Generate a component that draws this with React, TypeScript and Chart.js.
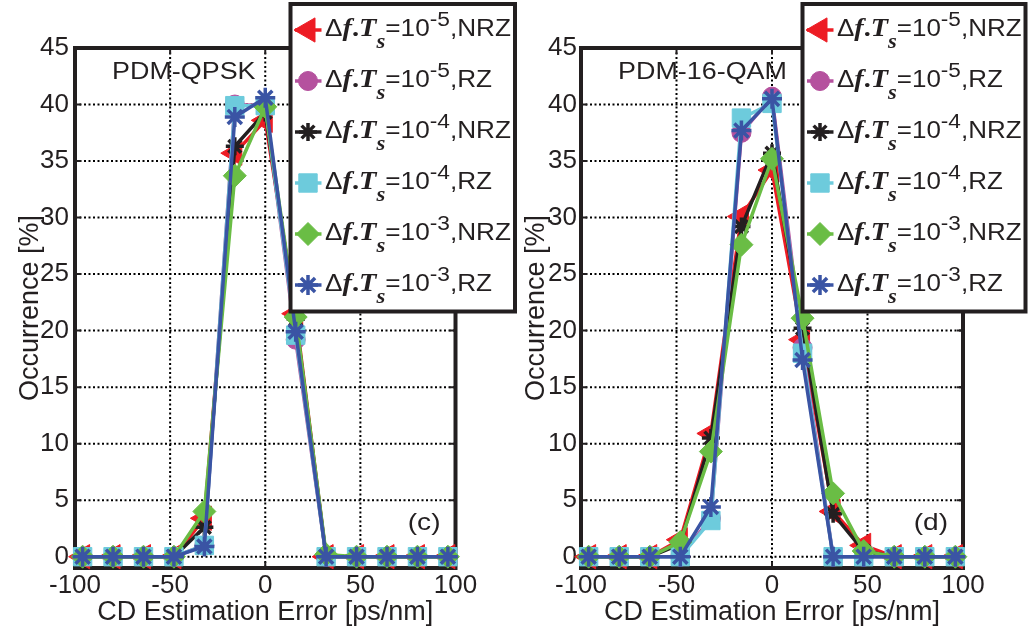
import React, { useEffect, useRef } from 'react';
import { Chart, registerables } from 'chart.js';

Chart.register(...registerables);

// ---------------- data ----------------
const xValues = [-96, -80, -64, -48, -32, -16, 0, 16, 32, 48, 64, 80, 96];
const xTicks = [-100, -50, 0, 50, 100];
const yTicks = [0, 5, 10, 15, 20, 25, 30, 35, 40, 45];

const seriesExponents = ['-5', '-5', '-4', '-4', '-3', '-3'];
const seriesFormats = ['NRZ', 'RZ', 'NRZ', 'RZ', 'NRZ', 'RZ'];
const seriesColors = ['#ED1C24', '#B5519E', '#231F20', '#6DCBDC', '#6ABD45', '#3A54A4'];

// PDM-QPSK (c)
const qpskNrz5 = [0, 0, 0, 0, 3.4, 35.7, 38.6, 21.5, 0, 0, 0, 0, 0];
const qpskRz5 = [0, 0, 0, 0, 1.0, 40.0, 39.9, 19.2, 0, 0, 0, 0, 0];
const qpskNrz4 = [0, 0, 0, 0, 2.6, 36.3, 39.3, 21.0, 0, 0, 0, 0, 0];
const qpskRz4 = [0, 0, 0, 0, 1.0, 39.9, 39.9, 19.6, 0, 0, 0, 0, 0];
const qpskNrz3 = [0, 0, 0, 0, 4.0, 33.7, 39.8, 21.2, 0.2, 0, 0, 0, 0];
const qpskRz3 = [0, 0, 0, 0, 0.9, 38.9, 40.6, 19.9, 0, 0, 0, 0, 0];

// PDM-16-QAM (d)
const qamNrz5 = [0, 0, 0, 1.5, 10.9, 30.1, 34.2, 19.2, 4.0, 1.0, 0, 0, 0];
const qamRz5 = [0, 0, 0, 0, 3.4, 37.5, 40.7, 18.5, 0, 0, 0, 0, 0];
const qamNrz4 = [0, 0, 0, 1.1, 10.5, 29.2, 35.7, 20.2, 3.8, 0.5, 0, 0, 0];
const qamRz4 = [0, 0, 0, 0, 3.2, 38.8, 40.1, 18.0, 0, 0, 0, 0, 0];
const qamNrz3 = [0, 0, 0, 1.3, 9.3, 27.6, 35.2, 21.1, 5.6, 0.5, 0, 0, 0];
const qamRz3 = [0, 0, 0, 0, 4.4, 37.7, 40.5, 17.4, 0, 0, 0, 0, 0];

const qpskSeries = [qpskNrz5, qpskRz5, qpskNrz4, qpskRz4, qpskNrz3, qpskRz3];
const qamSeries = [qamNrz5, qamRz5, qamNrz4, qamRz4, qamNrz3, qamRz3];

// ---------------- styles ----------------
const SANS = '"Liberation Sans", Arial, Helvetica, sans-serif';
const SERIF = '"Liberation Serif", "Times New Roman", serif';
const INK = '#231F20';
const STRETCH = 1.17;

const markerStyles = [
  { style: 'triangle', radius: 14, rotation: -90, bw: 1 },
  { style: 'circle', radius: 9.5, rotation: 0, bw: 1 },
  { style: 'star', radius: 9, rotation: 0, bw: 3.5 },
  { style: 'rect', radius: 13, rotation: 0, bw: 1 },
  { style: 'rectRot', radius: 11.5, rotation: 0, bw: 1 },
  { style: 'star', radius: 10, rotation: 0, bw: 3.5 },
];

function drawMarker(ctx: CanvasRenderingContext2D, i: number, x: number, y: number) {
  const m = markerStyles[i];
  const c = seriesColors[i];
  const r = m.radius;
  ctx.save();
  ctx.fillStyle = c;
  ctx.strokeStyle = c;
  ctx.lineWidth = m.bw;
  ctx.beginPath();
  if (m.style === 'triangle') {
    ctx.moveTo(x - r, y);
    ctx.lineTo(x + r / 2, y - r * 0.866);
    ctx.lineTo(x + r / 2, y + r * 0.866);
    ctx.closePath();
    ctx.fill();
    ctx.stroke();
  } else if (m.style === 'circle') {
    ctx.arc(x, y, r, 0, Math.PI * 2);
    ctx.fill();
    ctx.stroke();
  } else if (m.style === 'rect') {
    const s = r * Math.SQRT1_2;
    ctx.rect(x - s, y - s, 2 * s, 2 * s);
    ctx.fill();
    ctx.stroke();
  } else if (m.style === 'rectRot') {
    ctx.moveTo(x - r, y);
    ctx.lineTo(x, y - r);
    ctx.lineTo(x + r, y);
    ctx.lineTo(x, y + r);
    ctx.closePath();
    ctx.fill();
    ctx.stroke();
  } else {
    const d = r * Math.SQRT1_2;
    ctx.moveTo(x - r, y); ctx.lineTo(x + r, y);
    ctx.moveTo(x, y - r); ctx.lineTo(x, y + r);
    ctx.moveTo(x - d, y - d); ctx.lineTo(x + d, y + d);
    ctx.moveTo(x - d, y + d); ctx.lineTo(x + d, y - d);
    ctx.stroke();
  }
  ctx.restore();
}

type Seg = { t: string; font: string; dy: number };
function legendSegs(exp: string, fmt: string): Seg[] {
  return [
    { t: 'Δ', font: `23px ${SANS}`, dy: 0 },
    { t: 'f', font: `italic bold 25px ${SERIF}`, dy: 0 },
    { t: '.', font: `bold 25px ${SERIF}`, dy: 0 },
    { t: 'T', font: `italic bold 25px ${SERIF}`, dy: 0 },
    { t: 's', font: `italic bold 20px ${SERIF}`, dy: 12 },
    { t: '=10', font: `23px ${SANS}`, dy: 0 },
    { t: exp, font: `20px ${SANS}`, dy: -10 },
    { t: ',' + fmt, font: `23px ${SANS}`, dy: 0 },
  ];
}
function segsWidth(ctx: CanvasRenderingContext2D, segs: Seg[]) {
  let w = 0;
  for (const s of segs) { ctx.font = s.font; w += ctx.measureText(s.t).width; }
  return w;
}

function stretchedText(ctx: CanvasRenderingContext2D, text: string, x: number, y: number, font: string, align: CanvasTextAlign, sx: number) {
  ctx.save();
  ctx.translate(x, y);
  ctx.scale(sx, 1);
  ctx.font = font;
  ctx.textAlign = align;
  ctx.textBaseline = 'alphabetic';
  ctx.fillStyle = INK;
  ctx.fillText(text, 0, 0);
  ctx.restore();
}

type PanelCfg = {
  series: number[][];
  name: string;
  tag: string;
  canvasLeft: number;
  canvasWidth: number;
  yAxisWidth: number;
  padRight: number;
  yTickPad: number;
  yTitleX: number;
  legendLeft: number;
  legendRight: number;
};

function makePlugin(cfg: PanelCfg) {
  return {
    id: 'decor',
    beforeDatasetsDraw(chart: any) {
      const ctx: CanvasRenderingContext2D = chart.ctx;
      const { left, right, top, bottom } = chart.chartArea;
      const xs = chart.scales.x;
      const ys = chart.scales.y;
      ctx.save();
      // dotted grid
      ctx.strokeStyle = '#000';
      ctx.lineWidth = 2;
      ctx.setLineDash([2, 2.5]);
      ctx.beginPath();
      for (const v of xTicks) {
        const px = xs.getPixelForValue(v);
        if (px <= left + 2 || px >= right - 2) continue;
        ctx.moveTo(px, top); ctx.lineTo(px, bottom);
      }
      for (const v of yTicks) {
        const py = ys.getPixelForValue(v);
        if (py <= top + 2 || py >= bottom - 2) continue;
        ctx.moveTo(left, py); ctx.lineTo(right, py);
      }
      ctx.stroke();
      ctx.setLineDash([]);
      // inward tick marks
      ctx.strokeStyle = INK;
      ctx.lineWidth = 2;
      ctx.beginPath();
      for (const v of xTicks) {
        const px = xs.getPixelForValue(v);
        ctx.moveTo(px, bottom); ctx.lineTo(px, bottom - 6);
        ctx.moveTo(px, top); ctx.lineTo(px, top + 6);
      }
      for (const v of yTicks) {
        const py = ys.getPixelForValue(v);
        ctx.moveTo(left, py); ctx.lineTo(left + 6, py);
        ctx.moveTo(right, py); ctx.lineTo(right - 6, py);
      }
      ctx.stroke();
      // box
      ctx.lineWidth = 4;
      ctx.strokeRect(left, top, right - left, bottom - top);
      ctx.restore();
    },
    afterDraw(chart: any) {
      const ctx: CanvasRenderingContext2D = chart.ctx;
      const { left, right, top, bottom } = chart.chartArea;
      ctx.save();
      // axis titles
      ctx.fillStyle = INK;
      ctx.font = `27px ${SANS}`;
      ctx.textAlign = 'center';
      ctx.textBaseline = 'middle';
      ctx.fillText('CD Estimation Error [ps/nm]', (left + right) / 2, 613);
      ctx.save();
      ctx.translate(cfg.yTitleX, (top + bottom) / 2);
      ctx.rotate(-Math.PI / 2);
      ctx.fillText('Occurrence [%]', 0, 0);
      ctx.restore();
      // inner labels
      stretchedText(ctx, cfg.name, left + 37, 79, `23px ${SANS}`, 'left', STRETCH);
      stretchedText(ctx, cfg.tag, right - 15, 530, `24px ${SANS}`, 'right', STRETCH);
      // legend
      const bl = cfg.legendLeft, br = cfg.legendRight, bt = 4, bb = 311.5;
      ctx.fillStyle = '#fff';
      ctx.fillRect(bl, bt, br - bl, bb - bt);
      ctx.strokeStyle = INK;
      ctx.lineWidth = 4;
      ctx.strokeRect(bl, bt, br - bl, bb - bt);
      const textX = bl + 34.5;
      const target = br - 4 - textX;
      const sx = target / segsWidth(ctx, legendSegs(seriesExponents[0], seriesFormats[0]));
      for (let i = 0; i < 6; i++) {
        const cy = bt + 26 + 51 * i;
        ctx.save();
        ctx.strokeStyle = seriesColors[i];
        ctx.lineWidth = 3.5;
        ctx.beginPath();
        ctx.moveTo(bl + 4.5, cy); ctx.lineTo(bl + 31, cy);
        ctx.stroke();
        ctx.restore();
        drawMarker(ctx, i, bl + 17.5, cy);
        const segs = legendSegs(seriesExponents[i], seriesFormats[i]);
        ctx.save();
        ctx.translate(textX, cy + 6);
        ctx.scale(sx, 1);
        ctx.fillStyle = INK;
        ctx.textAlign = 'left';
        ctx.textBaseline = 'alphabetic';
        let cx = 0;
        for (const s of segs) {
          ctx.font = s.font;
          ctx.fillText(s.t, cx, s.dy);
          cx += ctx.measureText(s.t).width;
        }
        ctx.restore();
      }
      ctx.restore();
    },
  };
}

function buildConfig(cfg: PanelCfg): any {
  const datasets = cfg.series.map((vals, i) => ({
    label: `Δf.Ts=10^${seriesExponents[i]},${seriesFormats[i]}`,
    data: xValues.map((x, k) => ({ x, y: vals[k] })),
    borderColor: seriesColors[i],
    backgroundColor: seriesColors[i],
    borderWidth: 3.5,
    tension: 0,
    pointStyle: markerStyles[i].style,
    pointRadius: markerStyles[i].radius,
    pointRotation: markerStyles[i].rotation,
    pointBorderWidth: markerStyles[i].bw,
    pointBorderColor: seriesColors[i],
    pointBackgroundColor: seriesColors[i],
    clip: false,
    order: 5 - i,
  }));
  return {
    type: 'line',
    data: { datasets },
    plugins: [makePlugin(cfg)],
    options: {
      responsive: false,
      animation: false,
      devicePixelRatio: 1,
      events: [],
      layout: { padding: { left: 0, top: 48, right: cfg.padRight, bottom: 0 } },
      plugins: { legend: { display: false }, tooltip: { enabled: false }, title: { display: false } },
      scales: {
        x: {
          type: 'linear',
          min: -100,
          max: 100,
          grid: { display: false, drawTicks: false },
          border: { display: false },
          afterBuildTicks: (s: any) => { s.ticks = xTicks.map((v) => ({ value: v })); },
          afterFit: (s: any) => { s.height = 67; },
          ticks: {
            font: { family: SANS, size: 26 },
            color: INK,
            padding: 2,
            maxRotation: 0,
            autoSkip: false,
            callback: (v: any) => String(v),
          },
        },
        y: {
          type: 'linear',
          min: -1,
          max: 45,
          grid: { display: false, drawTicks: false },
          border: { display: false },
          afterBuildTicks: (s: any) => { s.ticks = yTicks.map((v) => ({ value: v })); },
          afterFit: (s: any) => { s.width = cfg.yAxisWidth; },
          ticks: {
            font: { family: SANS, size: 26 },
            color: INK,
            padding: cfg.yTickPad,
            autoSkip: false,
            callback: (v: any) => String(v),
          },
        },
      },
    },
  };
}

function Panel({ cfg }: { cfg: PanelCfg }) {
  const ref = useRef<HTMLCanvasElement>(null);
  useEffect(() => {
    const chart = new Chart(ref.current as HTMLCanvasElement, buildConfig(cfg));
    return () => chart.destroy();
  }, []);
  return (
    <canvas
      ref={ref}
      width={cfg.canvasWidth}
      height={635}
      style={{ position: 'absolute', left: cfg.canvasLeft, top: 0, width: cfg.canvasWidth, height: 635, display: 'block' }}
    />
  );
}

const leftCfg: PanelCfg = {
  series: qpskSeries,
  name: 'PDM-QPSK',
  tag: '(c)',
  canvasLeft: 0,
  canvasWidth: 520,
  yAxisWidth: 75,
  padRight: 64.5,
  yTickPad: 6,
  yTitleX: 31,
  legendLeft: 290.5,
  legendRight: 515,
};

const rightCfg: PanelCfg = {
  series: qamSeries,
  name: 'PDM-16-QAM',
  tag: '(d)',
  canvasLeft: 520,
  canvasWidth: 510,
  yAxisWidth: 61,
  padRight: 67,
  yTickPad: 4,
  yTitleX: 17,
  legendLeft: 282.5,
  legendRight: 505.5,
};

export default function App() {
  return (
    <div style={{ position: 'fixed', left: 0, top: 0, width: 1030, height: 635, background: '#fff', overflow: 'hidden' }}>
      <Panel cfg={leftCfg} />
      <Panel cfg={rightCfg} />
    </div>
  );
}
